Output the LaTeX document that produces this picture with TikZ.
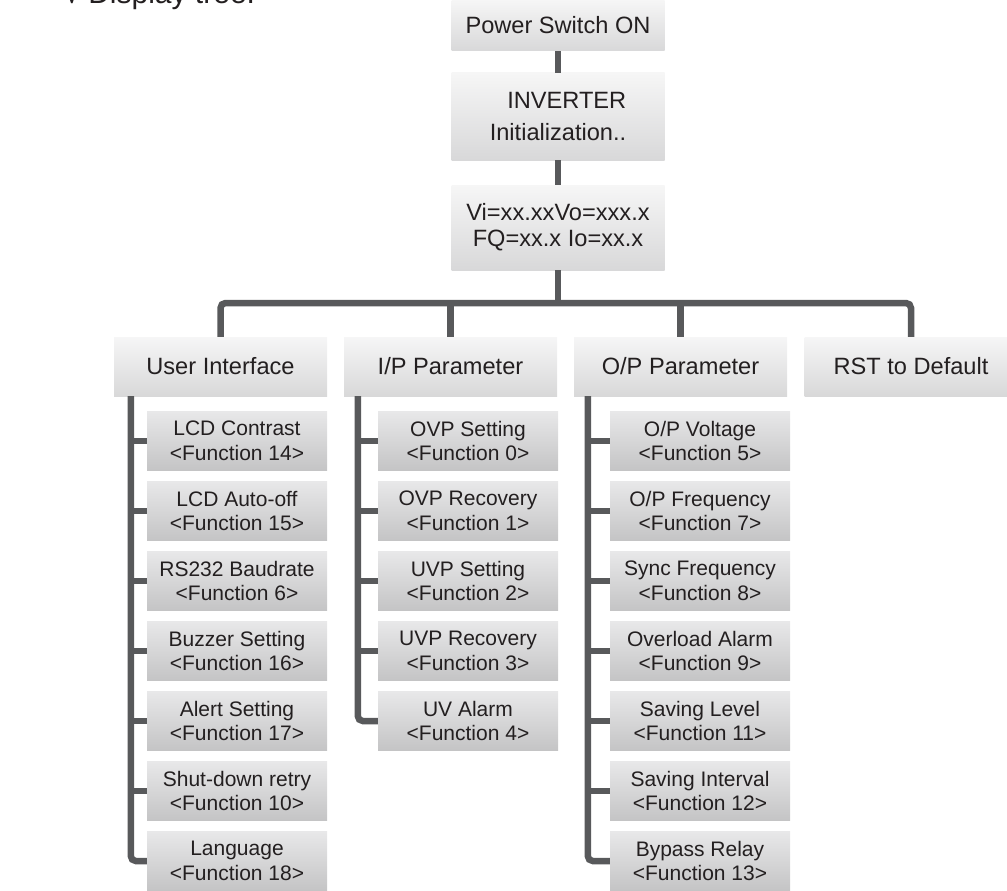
\documentclass[tikz,border=0pt]{standalone}
\usepackage{fontspec}
\setmainfont{Liberation Sans}
\definecolor{linkgray}{HTML}{58595B}
\definecolor{boxtop}{HTML}{F6F6F6}
\definecolor{boxbot}{HTML}{D8D8D9}
\definecolor{subtop}{HTML}{E8E8E9}
\definecolor{subbot}{HTML}{C4C4C5}
\definecolor{txt}{HTML}{231F20}
\tikzset{
  mainbox/.style={top color=boxtop, bottom color=boxbot, minimum width=213pt,
    minimum height=59pt, inner sep=0pt, align=center, text=txt,
    font=\fontsize{23.6}{30}\selectfont},
  subbox/.style={top color=subtop, bottom color=subbot, minimum width=180pt,
    minimum height=59pt, inner sep=0pt, align=center, text=txt,
    font=\fontsize{21}{24.5}\selectfont},
  link/.style={draw=linkgray, line width=6.5pt}
}
\begin{document}
\begin{tikzpicture}[x=1pt,y=-1pt]
\useasboundingbox (0,0) rectangle (1007,891);
% heading, cut at the top edge
\node[anchor=base west, text=txt, font=\fontsize{30}{30}\selectfont] (title) at (60,4) {√ Display tree:};
% start-up chain
\node[mainbox, minimum height=51pt] (power) at (558,25.5) {Power Switch ON};
\node[mainbox, minimum height=87pt, align=right, font=\fontsize{23.6}{32}\selectfont] (init) at (558,116.5) {INVERTER\\Initialization..};
\node[mainbox, minimum height=85pt, font=\fontsize{23.6}{26}\selectfont] (meas) at (558,227.5) {Vi=xx.xxVo=xxx.x\\FQ=xx.x Io=xx.x};
\draw[link] (power) -- (init);
\draw[link] (init) -- (meas);
% main menu
\node[mainbox] (ui) at (220.5,366.5) {User Interface};
\node[mainbox] (ip) at (450.5,366.5) {I/P Parameter};
\node[mainbox] (op) at (680.5,366.5) {O/P Parameter};
\node[mainbox] (rst) at (911,366.5) {RST to Default};
\coordinate (bar) at (558,303);
\draw[link] (meas) -- (bar);
\draw[link, rounded corners=5pt] (ui.north) |- (bar) -| (rst.north);
\draw[link] (ip.north) -- (ip.north |- bar);
\draw[link] (op.north) -- (op.north |- bar);
% user interface
\foreach \lbl/\fn [count=\i] in {LCD Contrast/14, LCD Auto-off/15, RS232 Baudrate/6,
    Buzzer Setting/16, Alert Setting/17, Shut-down retry/10, Language/18}
  \node[subbox] (ui\i) at (237,{441+70*(\i-1)}) {\lbl\\<Function \fn>};
\coordinate (uispine) at ([xshift=17pt]ui.south west);
\draw[link, rounded corners=5pt] (uispine) |- (ui7.west);
\foreach \i in {1,...,6}
  \draw[link] (uispine |- ui\i.west) -- (ui\i.west);
% input parameters
\foreach \lbl/\fn [count=\i] in {OVP Setting/0, OVP Recovery/1, UVP Setting/2,
    UVP Recovery/3, UV Alarm/4}
  \node[subbox] (ip\i) at (468,{441+70*(\i-1)}) {\lbl\\<Function \fn>};
\coordinate (ipspine) at ([xshift=14pt]ip.south west);
\draw[link, rounded corners=5pt] (ipspine) |- (ip5.west);
\foreach \i in {1,...,4}
  \draw[link] (ipspine |- ip\i.west) -- (ip\i.west);
% output parameters
\foreach \lbl/\fn [count=\i] in {{O/P Voltage}/5, {O/P Frequency}/7, Sync Frequency/8,
    Overload Alarm/9, Saving Level/11, Saving Interval/12, Bypass Relay/13}
  \node[subbox] (op\i) at (700,{441+70*(\i-1)}) {\lbl\\<Function \fn>};
\coordinate (opspine) at ([xshift=14pt]op.south west);
\draw[link, rounded corners=5pt] (opspine) |- (op7.west);
\foreach \i in {1,...,6}
  \draw[link] (opspine |- op\i.west) -- (op\i.west);
\end{tikzpicture}
\end{document}
